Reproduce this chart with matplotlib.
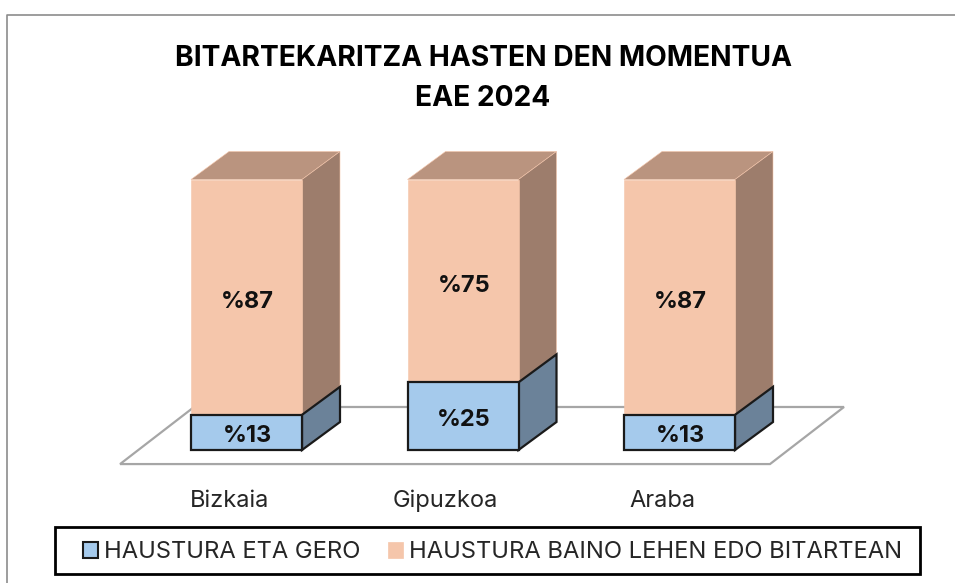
import matplotlib
matplotlib.use('Agg')
import matplotlib.pyplot as plt
from matplotlib.patches import Polygon, Patch, Rectangle

plt.rcParams['font.family'] = ['Inter', 'DejaVu Sans']

# Data
regions = ['Bizkaia', 'Gipuzkoa', 'Araba']
after_break = [13, 25, 13]
before_break = [87, 75, 87]
after_label = 'HAUSTURA ETA GERO'
before_label = 'HAUSTURA BAINO LEHEN EDO BITARTEAN'
title_lines = ['BITARTEKARITZA HASTEN DEN MOMENTUA', 'EAE 2024']

W, H = 955, 583
fig = plt.figure(figsize=(W / 100, H / 100), dpi=100)

# axes fill the figure: x=0,1,2 are the bars, y is percent
x_unit = 216.5
y_unit = 2.705
ax = fig.add_axes([0, 0, 1, 1])
ax.set_xlim(-246.5 / x_unit, (W - 246.5) / x_unit)
ax.set_ylim(-(H - 450) / y_unit, 450 / y_unit)
ax.axis('off')

bar_w = 111 / x_unit
dx = 38 / x_unit
dy = 28 / y_unit


def box(x, y0, y1, front, side, edge, lw, top=None):
    # one 3d looking block, front face plus side and maybe a top
    l, r = x - bar_w / 2, x + bar_w / 2
    if top:
        ax.add_patch(Polygon([(l, y1), (r, y1), (r + dx, y1 + dy), (l + dx, y1 + dy)],
                             fc=top, ec=edge, lw=lw, zorder=3))
    ax.add_patch(Polygon([(r, y0), (r + dx, y0 + dy), (r + dx, y1 + dy), (r, y1)],
                         fc=side, ec=edge, lw=lw, zorder=3))
    ax.add_patch(Polygon([(l, y0), (r, y0), (r, y1), (l, y1)],
                         fc=front, ec=edge, lw=lw, zorder=3))


# floor
fl = -5.2
ax.add_patch(Polygon([(-0.584, fl), (2.418, fl), (2.418 + 74 / x_unit, fl + 21.1),
                      (-0.584 + 74 / x_unit, fl + 21.1)],
                     fc='white', ec='#a6a6a6', lw=1.6, zorder=1))

for i, region in enumerate(regions):
    a = after_break[i]
    b = before_break[i]
    box(i, a, a + b, '#f5c6ab', '#9d7d6c', '#f5c6ab', 0.4, top='#ba947f')
    box(i, 0, a, '#a5caec', '#6b8299', '#1a1a1a', 1.6)
    ax.text(i + 0.005, a / 2 - 1.4, f'%{a}', ha='center', va='center', fontsize=17,
            fontweight='bold', color='#111111', zorder=4)
    ax.text(i + 0.005, a + b / 2 - 1.9, f'%{b}', ha='center', va='center', fontsize=17,
            fontweight='bold', color='#111111', zorder=4)
    ax.text(i - 0.08, -(501 - 450) / y_unit, region, ha='center', va='center',
            fontsize=17, color='#262626')

fig.text(483 / W, 1 - 59 / H, title_lines[0], ha='center', va='center',
         fontsize=20.3, fontweight='bold', color='black')
fig.text(483 / W, 1 - 98 / H, title_lines[1], ha='center', va='center',
         fontsize=20.3, fontweight='bold', color='black')

# chart frame, open at right and bottom
fig.add_artist(plt.Line2D([7 / W, 7 / W, 1], [0, 1 - 14.5 / H, 1 - 14.5 / H],
                          color='#8c8c8c', lw=1.2))

# legend, its box is drawn apart since the padding is not even
fig.add_artist(Rectangle((55 / W, 1 - 574 / H), 865 / W, 47 / H, transform=fig.transFigure,
                         fc='none', ec='black', lw=2))
handles = [Patch(fc='#a5caec', ec='#1a1a1a', lw=1.5, label=after_label),
           Patch(fc='#f5c6ab', ec='#f5c6ab', lw=0.5, label=before_label)]
ax.legend(handles=handles, ncol=2, loc='center',
          bbox_to_anchor=(492.5 / W, 1 - 552.5 / H), bbox_transform=fig.transFigure,
          fontsize=17.1, frameon=False, borderpad=0, borderaxespad=0,
          handlelength=0.63, handleheight=0.63, handletextpad=0.22,
          columnspacing=1.2, labelcolor='#262626')

fig.savefig('out.png', dpi=100)
